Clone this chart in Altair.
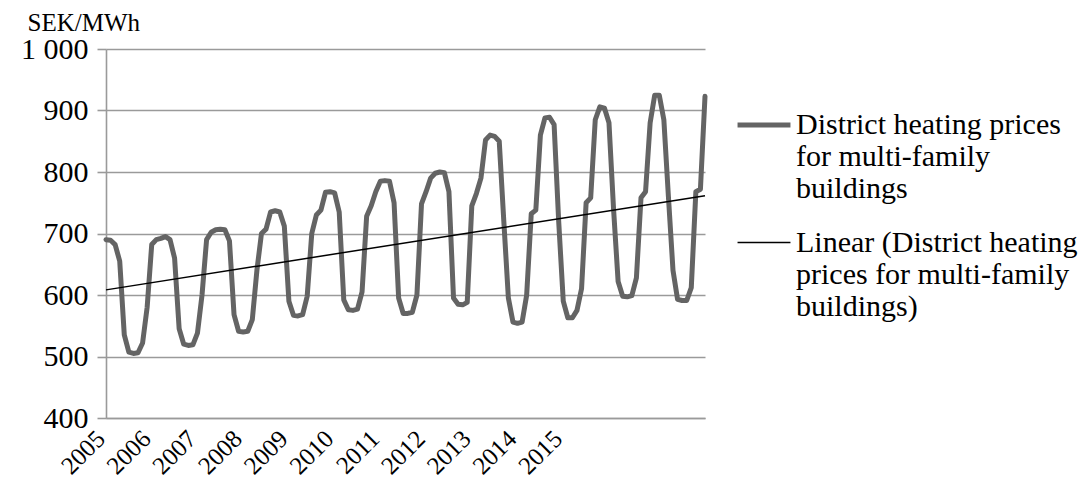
import altair as alt
import pandas as pd

# Monthly district heating prices (SEK/MWh), Jan..Dec of each year
years = [2005, 2006, 2007, 2008, 2009, 2010, 2011, 2012, 2013, 2014, 2015]
p2005 = [690, 689, 682, 655, 535, 507, 505, 506, 522, 580, 682, 690]
p2006 = [692, 695, 690, 660, 545, 520, 518, 519, 538, 600, 690, 702]
p2007 = [706, 707, 706, 688, 568, 541, 540, 541, 560, 640, 700, 707]
p2008 = [735, 737, 735, 712, 590, 567, 566, 568, 598, 700, 730, 738]
p2009 = [767, 768, 766, 735, 592, 576, 575, 577, 605, 728, 745, 768]
p2010 = [785, 786, 785, 750, 595, 570, 570, 572, 600, 748, 768, 790]
p2011 = [798, 800, 799, 768, 595, 585, 584, 588, 745, 765, 790, 852]
p2012 = [860, 858, 850, 720, 595, 556, 554, 556, 600, 732, 738, 860]
p2013 = [888, 889, 877, 720, 590, 563, 563, 575, 610, 750, 758, 885]
p2014 = [906, 904, 880, 740, 622, 598, 597, 599, 628, 758, 768, 880]
p2015 = [925, 925, 885, 760, 640, 593, 591, 591, 612, 768, 772, 923]

tick_positions = [0, 10, 20, 30, 40, 50, 60, 70, 80, 90, 100]
tick_labels = ["2005", "2006", "2007", "2008", "2009", "2010",
               "2011", "2012", "2013", "2014", "2015"]
y_ticks = [400, 500, 600, 700, 800, 900, 1000]

series_name = "District heating prices for multi-family buildings"
trend_name = "Linear (District heating prices for multi-family buildings)"
series_lines = ["District heating prices", "for multi-family", "buildings"]
trend_lines = ["Linear (District heating", "prices for multi-family", "buildings)"]

values = (p2005 + p2006 + p2007 + p2008 + p2009 + p2010 +
          p2011 + p2012 + p2013 + p2014 + p2015)
df = pd.DataFrame({
    "i": list(range(len(values))),
    "value": values,
    "series": series_name,
})

FONT = "Liberation Serif"
GRID = "#9a9a9a"

label_expr_x = f"{tick_labels}[indexof({tick_positions}, datum.value)]"
label_expr_y = "replace(format(datum.value, ','), ',', ' ')"

legend_cfg = alt.Legend(
    title=None,
    orient="none",
    legendX=629,
    legendY=47,
    labelFont=FONT,
    labelFontSize=30,
    labelColor="black",
    labelLimit=600,
    labelBaseline="middle",
    labelOffset=3,
    symbolSize=2800,
    symbolType="stroke",
    rowPadding=11,
    padding=0,
    labelExpr=(
        f"datum.label == '{series_name}' ? {series_lines} : {trend_lines}"
    ),
)

color_scale = alt.Scale(domain=[series_name, trend_name], range=["#646464", "#000000"])
width_scale = alt.Scale(domain=[series_name, trend_name], range=[5, 1.5])

x_enc = alt.X(
    "i:Q",
    scale=alt.Scale(domain=[0, len(values) - 1], nice=False, zero=False),
    axis=alt.Axis(
        values=tick_positions,
        labelExpr=label_expr_x,
        labelAngle=-45,
        labelAlign="right",
        labelBaseline="alphabetic",
        labelFont=FONT,
        labelFontSize=25,
        labelColor="black",
        labelPadding=22,
        labelOverlap=False,
        ticks=False,
        grid=False,
        domainColor=GRID,
        domainWidth=1.6,
        title=None,
    ),
)
y_enc = alt.Y(
    "value:Q",
    scale=alt.Scale(domain=[400, 1000], nice=False, zero=False),
    axis=alt.Axis(
        values=y_ticks,
        labelExpr=label_expr_y,
        labelFont=FONT,
        labelFontSize=30,
        labelColor="black",
        labelPadding=9,
        tickSize=9,
        tickColor=GRID,
        tickWidth=1.6,
        grid=True,
        gridColor=GRID,
        gridWidth=1.6,
        domainColor=GRID,
        domainWidth=1.6,
        title="SEK/MWh",
        titleFont=FONT,
        titleFontSize=25,
        titleFontWeight="normal",
        titleColor="black",
        titleAngle=0,
        titleAlign="left",
        titleBaseline="alphabetic",
        titleX=-79,
        titleY=-19,
    ),
)

base = alt.Chart(df)

main_line = base.mark_line(strokeJoin="round", strokeCap="round").encode(
    x=x_enc,
    y=y_enc,
    color=alt.Color("series:N", scale=color_scale, legend=legend_cfg),
    strokeWidth=alt.StrokeWidth("series:N", scale=width_scale, legend=legend_cfg),
)

trend_line = (
    base.transform_regression("i", "value", method="linear")
    .transform_calculate(series=f"'{trend_name}'")
    .mark_line()
    .encode(
        x=alt.X("i:Q"),
        y=alt.Y("value:Q"),
        color=alt.Color("series:N", scale=color_scale, legend=legend_cfg),
        strokeWidth=alt.StrokeWidth("series:N", scale=width_scale, legend=legend_cfg),
    )
)

chart = (
    alt.layer(main_line, trend_line)
    .properties(
        width=599,
        height=369,
        autosize=alt.AutoSizeParams(type="none"),
        padding={"left": 98, "top": 41, "right": 375, "bottom": 74},
        background="white",
    )
    .configure_view(stroke=None)
)

chart.save("out.html", embed_options={"renderer": "svg", "actions": False})
